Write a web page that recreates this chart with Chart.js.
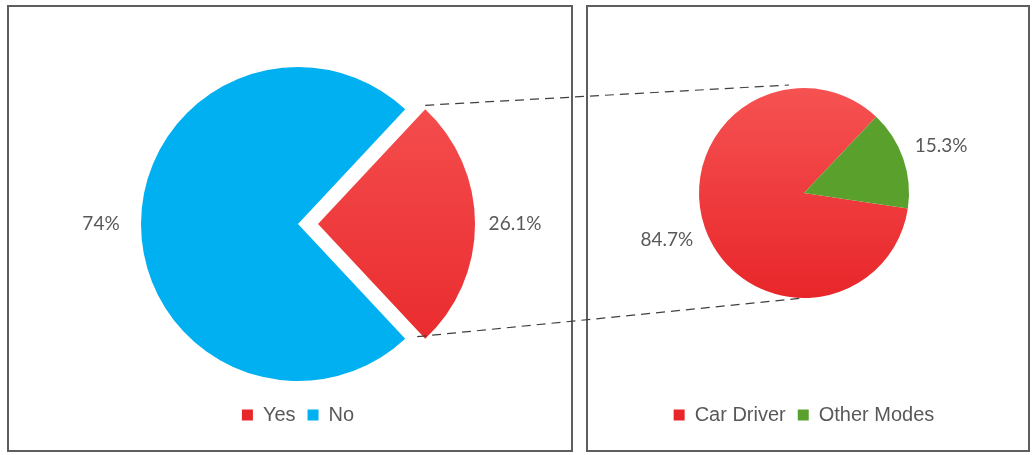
<!DOCTYPE html>
<html>
<head>
<meta charset="utf-8">
<script src="https://cdn.jsdelivr.net/npm/chart.js@4"></script>
<style>
  body { margin: 0; background: #fff; width: 1032px; height: 455px; position: relative; overflow: hidden; }
  .panel { position: absolute; top: 5px; height: 443px; border: 2px solid #5e5e5e; background: #fff; }
  #p1 { left: 7px; width: 562px; }
  #p2 { left: 586px; width: 440px; }
  canvas.c { position: absolute; }
  #leftChart { left: 10px; top: 8px; }
  #rightChart { left: 589px; top: 8px; }
  #links { position: absolute; left: 0; top: 0; pointer-events: none; }
</style>
</head>
<body>
<div class="panel" id="p1"></div>
<div class="panel" id="p2"></div>
<canvas id="leftChart" class="c" width="561" height="442"></canvas>
<canvas id="rightChart" class="c" width="439" height="442"></canvas>
<canvas id="links" width="1032" height="455"></canvas>
<script>
// data
const mainLabels = ['Yes', 'No'];
const mainValues = [26.1, 74];
const splitLabels = ['Car Driver', 'Other Modes'];
const splitValues = [84.7, 15.3];

const textGrey = '#595959';

// first slice is red with a soft top-to-bottom shade, second uses the given colour
function sliceFill(other) {
  return (c) => {
    if (c.dataIndex !== 0) return other;
    const { ctx, chartArea } = c.chart;
    if (!chartArea) return '#f03434';
    const g = ctx.createLinearGradient(0, chartArea.top, 0, chartArea.bottom);
    g.addColorStop(0, '#f65252');
    g.addColorStop(1, '#e8262a');
    return g;
  };
}

// percentage labels just outside each slice
const pctLabels = {
  id: 'pctLabels',
  afterDatasetsDraw(chart) {
    const ctx = chart.ctx;
    const vals = chart.data.datasets[0].data;
    ctx.save();
    ctx.font = '19px Lato';
    ctx.fillStyle = textGrey;
    ctx.textAlign = 'center';
    ctx.textBaseline = 'middle';
    chart.getDatasetMeta(0).data.forEach((arc, i) => {
      const mid = (arc.startAngle + arc.endAngle) / 2;
      const d = arc.outerRadius + 40 + (arc.options.offset || 0) / 4;
      ctx.fillText(vals[i] + '%', arc.x + Math.cos(mid) * d, arc.y + Math.sin(mid) * d);
    });
    ctx.restore();
  }
};

function pieOptions(rotation, radius, padding, gap) {
  return {
    responsive: false,
    animation: false,
    rotation: rotation,
    radius: radius,
    layout: { padding: padding },
    plugins: {
      tooltip: { enabled: false },
      legend: {
        position: 'bottom',
        title: { display: true, text: '', font: { size: 10 }, padding: { top: 0, bottom: gap } },
        labels: {
          font: { family: '"Liberation Sans", Arial, sans-serif', size: 20 },
          color: textGrey,
          boxWidth: 11,
          boxHeight: 11,
          padding: 12
        }
      }
    }
  };
}

// "Yes" slice centred on the right-hand side
const yesShare = mainValues[0] / (mainValues[0] + mainValues[1]);
const leftChart = new Chart(document.getElementById('leftChart'), {
  type: 'pie',
  data: {
    labels: mainLabels,
    datasets: [{
      data: mainValues,
      backgroundColor: sliceFill('#00b0f0'),
      borderWidth: 0,
      offset: [80, 0]
    }]
  },
  options: pieOptions(90 - yesShare * 180, 157, { left: 15, right: 0, top: 59, bottom: 15 }, 0),
  plugins: [pctLabels]
});

// "Other Modes" slice centred about 71 degrees clockwise from the top
const otherShare = splitValues[1] / (splitValues[0] + splitValues[1]);
const rightChart = new Chart(document.getElementById('rightChart'), {
  type: 'pie',
  data: {
    labels: splitLabels,
    datasets: [{
      data: splitValues,
      backgroundColor: sliceFill('#5aa02c'),
      borderWidth: 0
    }]
  },
  options: pieOptions(71 + otherShare * 180, 105, { left: 0, right: 9, top: 80, bottom: 15 }, 83),
  plugins: [pctLabels]
});

// dashed connectors from the exploded slice to the second pie
function drawLinks() {
  const ctx = document.getElementById('links').getContext('2d');
  const a = leftChart.getDatasetMeta(0).data[0];
  const b = rightChart.getDatasetMeta(0).data[0];
  const r1 = leftChart.canvas.getBoundingClientRect();
  const r2 = rightChart.canvas.getBoundingClientRect();
  const mid = (a.startAngle + a.endAngle) / 2;
  const sh = (a.options.offset || 0) / 4;
  const ax = r1.left + a.x + Math.cos(mid) * sh;
  const ay = r1.top + a.y + Math.sin(mid) * sh;
  const bx = r2.left + b.x;
  const by = r2.top + b.y;
  ctx.strokeStyle = '#3f3f3f';
  ctx.lineWidth = 1.2;
  ctx.setLineDash([9, 6]);
  ctx.beginPath();
  ctx.moveTo(ax + Math.cos(a.startAngle) * a.outerRadius, ay + Math.sin(a.startAngle) * a.outerRadius - 4);
  ctx.lineTo(bx - 15, by - b.outerRadius - 3);
  ctx.moveTo(ax + Math.cos(a.endAngle) * a.outerRadius - 8, ay + Math.sin(a.endAngle) * a.outerRadius - 2);
  ctx.lineTo(bx, by + b.outerRadius);
  ctx.stroke();
}
drawLinks();
</script>
</body>
</html>
